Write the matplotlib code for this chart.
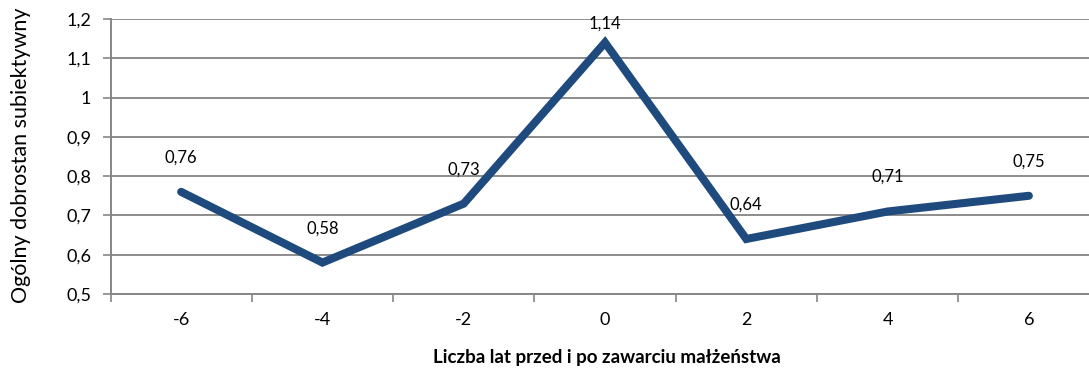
import matplotlib.pyplot as plt
from matplotlib.ticker import FuncFormatter, FixedLocator

# dane
lata = ["-6", "-4", "-2", "0", "2", "4", "6"]
dobrostan = [0.76, 0.58, 0.73, 1.14, 0.64, 0.71, 0.75]

plt.rcParams["font.family"] = ["Lato", "DejaVu Sans"]

fig = plt.figure(figsize=(10.89, 3.76), dpi=100)
ax = fig.add_axes([110.5 / 1089, 1 - 294 / 376, (1099.5 - 110.5) / 1089, (294 - 19) / 376])

x = range(len(lata))
ax.plot(x, dobrostan, color="#1F4A7E", linewidth=5.8,
        solid_capstyle="round", solid_joinstyle="miter")

for i, v in enumerate(dobrostan):
    dy = 8 if v > 1.1 else 19
    ax.annotate(f"{v:.2f}".replace(".", ","), (i, v), xytext=(0, dy),
                textcoords="offset points", ha="center", va="bottom", fontsize=12)

ax.set_xlim(-0.5, len(lata) - 0.5)
ax.set_ylim(0.5, 1.2)
ax.set_yticks([0.5 + 0.1 * k for k in range(8)])
ax.yaxis.set_major_formatter(FuncFormatter(lambda v, p: f"{v:.1f}".rstrip("0").rstrip(".").replace(".", ",") if abs(v - 1) > 1e-6 else "1"))
ax.set_xticks(list(x))
ax.set_xticklabels(lata)
ax.xaxis.set_minor_locator(FixedLocator([i - 0.5 for i in range(len(lata) + 1)]))
ax.tick_params(axis="x", which="major", length=0, pad=13, labelsize=13)
ax.tick_params(axis="x", which="minor", length=6, color="#868686", width=1.2)
ax.tick_params(axis="y", length=6, color="#868686", width=1.2, labelsize=13, pad=8)

ax.grid(axis="y", color="#8C8C8C", linewidth=1.4)
ax.set_axisbelow(True)
for s in ["top", "right"]:
    ax.spines[s].set_visible(False)
for s in ["left", "bottom"]:
    ax.spines[s].set_color("#868686")
    ax.spines[s].set_linewidth(1.4)

fig.text(21 / 1089, 1 - 155 / 376, "Ogólny dobrostan subiektywny", rotation=90,
         ha="center", va="center", fontsize=15.5)
fig.text(607 / 1089, 1 - 358 / 376, "Liczba lat przed i po zawarciu małżeństwa",
         ha="center", va="center", fontsize=13.5, fontweight="bold")

fig.savefig("out.png", dpi=100)
